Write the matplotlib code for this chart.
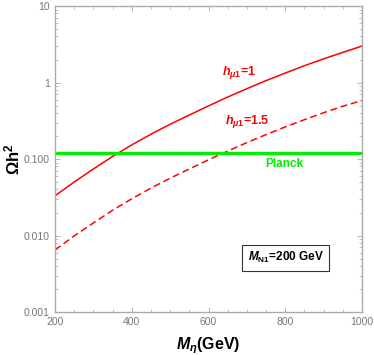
import matplotlib
matplotlib.use("Agg")
import matplotlib.pyplot as plt
from matplotlib.ticker import FixedLocator, LogLocator, NullFormatter
import numpy as np

plt.rcParams['font.family'] = ['Liberation Sans', 'DejaVu Sans']
plt.rcParams['mathtext.fontset'] = 'custom'
plt.rcParams['mathtext.rm'] = 'Liberation Sans:bold'
plt.rcParams['mathtext.it'] = 'Liberation Sans:bold:italic'
plt.rcParams['mathtext.bf'] = 'Liberation Sans:bold'

RED = "#FF0000"
GREEN = "#00EE00"
GRAY = "#AAAAAA"

# values
m_eta = [200, 250, 300, 350, 400, 450, 500, 550, 600, 650, 700, 750, 800, 850, 900, 950, 1000]
omega_h1 = [0.0331, 0.0501, 0.0741, 0.108, 0.153, 0.211, 0.285, 0.376, 0.495,
            0.646, 0.832, 1.06, 1.33, 1.66, 2.04, 2.48, 3.0]
omega_h15 = [0.00646, 0.00989, 0.0146, 0.0214, 0.0302, 0.0417, 0.0562, 0.0741, 0.0977,
             0.127, 0.164, 0.209, 0.263, 0.327, 0.403, 0.490, 0.582]
planck = 0.12

x_ticks = [200, 400, 600, 800, 1000]
y_ticks = [0.001, 0.01, 0.1, 1, 10]
y_tick_labels = ["0.001", "0.010", "0.100", "1", "10"]

fig = plt.figure(figsize=(3.74, 3.55), dpi=100)
ax = fig.add_axes([0.147, 0.121, 0.821, 0.862])

ax.plot(m_eta, omega_h1, color=RED, lw=1.1)
ax.plot(m_eta, omega_h15, color=RED, lw=1.1, ls=(0, (4.5, 2.5)))
ax.axhline(planck, color=GREEN, lw=2.4)

ax.set_yscale('log')
ax.set_xlim(200, 1000)
ax.set_ylim(0.001, 10)

ax.set_xticks(x_ticks)
ax.xaxis.set_minor_locator(FixedLocator(np.arange(200, 1001, 50)))
ax.set_yticks(y_ticks)
ax.set_yticklabels(y_tick_labels)
ax.yaxis.set_minor_locator(LogLocator(base=10, subs=np.arange(2, 10)))
ax.yaxis.set_minor_formatter(NullFormatter())

ax.tick_params(which='both', direction='in', top=True, right=True, colors=GRAY,
               labelsize=7.5, labelcolor='#777777')
ax.tick_params(which='major', length=3.5, width=0.6)
ax.tick_params(which='minor', length=2, width=0.5)
for s in ax.spines.values():
    s.set_color('#AAAAAA')
    s.set_linewidth(1.0)

ax.set_xlabel(r'$M_\eta$(GeV)', fontsize=11.5, fontweight='bold', labelpad=6)
fig.text(12 / 374, 1 - 159 / 355, r'$\mathbf{\Omega h^2}$', fontsize=12,
         rotation=90, ha='center', va='center')

ax.text(634, 1.37, r'$h_{\mu1}$=1', color=RED, fontsize=9, fontweight='bold', va='center')
ax.text(642, 0.305, r'$h_{\mu1}$=1.5', color=RED, fontsize=9, fontweight='bold', va='center')
ax.text(798, 0.086, 'Planck', color=GREEN, fontsize=8.5, fontweight='bold',
        ha='center', va='center')
ax.text(801, 0.0051, r'$M_{\mathrm{N1}}$=200 GeV', fontsize=8.5, fontweight='bold',
        ha='center', va='center',
        bbox=dict(boxstyle='square,pad=0.45', fc='white', ec='#333333', lw=0.8))

fig.savefig('out.png', dpi=100)
